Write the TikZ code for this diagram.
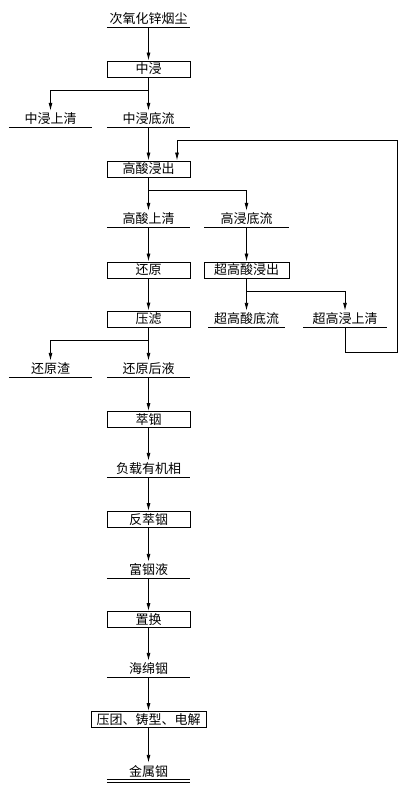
\documentclass[tikz,border=0pt]{standalone}
\usepackage{fontspec}
\setmainfont{Noto Sans CJK SC}
\usetikzlibrary{arrows.meta}
\begin{document}
\begin{tikzpicture}[x=1pt,y=-1pt,
  txt/.style={font=\fontsize{13}{14}\selectfont},
  proc/.style={txt, draw, line width=0.9pt, minimum width=83pt, minimum height=16pt, inner sep=0pt},
  prod/.style={txt, minimum width=83pt, minimum height=16pt, inner sep=0pt,
    append after command={(\tikzlastnode.south west) edge[line width=0.9pt] (\tikzlastnode.south east)}},
  ln/.style={line width=0.9pt},
  arr/.style={line width=0.9pt, -{Latex[length=8pt,width=4pt]}}]
\useasboundingbox (0,0) rectangle (406,791);
% nodes
\node[prod] (raw) at (148.5,19) {次氧化锌烟尘};
\node[proc] (zj) at (148.5,69) {中浸};
\node[prod] (zjsq) at (50.5,119) {中浸上清};
\node[prod] (zjdl) at (148.5,119) {中浸底流};
\node[proc] (gs) at (148.5,169) {高酸浸出};
\node[prod] (gssq) at (148.5,219) {高酸上清};
\node[prod, minimum width=84pt] (gjdl) at (246.5,219) {高浸底流};
\node[proc] (hy) at (148.5,270) {还原};
\node[proc, minimum width=85pt] (cg) at (246.5,270) {超高酸浸出};
\node[proc] (yl) at (148.5,319) {压滤};
\node[prod, minimum width=76pt] (cgdl) at (246.5,319) {超高酸底流};
\node[prod] (cgsq) at (345,319) {超高浸上清};
\node[prod] (hyz) at (50.5,369) {还原渣};
\node[prod] (hyhy) at (148.5,369) {还原后液};
\node[proc] (cy) at (148.5,419.5) {萃铟};
\node[prod] (fz) at (148.5,469) {负载有机相};
\node[proc] (fcy) at (148.5,519.5) {反萃铟};
\node[prod] (fyy) at (148.5,570) {富铟液};
\node[proc] (zh) at (148.5,619.5) {置换};
\node[prod] (hmy) at (148.5,669) {海绵铟};
\node[proc, minimum width=115pt] (yt) at (148.5,719.5) {压团、铸型、电解};
\node[prod] (jsy) at (148.5,771) {金属铟};
\draw[ln] ([yshift=-3pt]jsy.south west) -- ([yshift=-3pt]jsy.south east);
% branch coordinates
\coordinate (b1) at (148.5,90);
\coordinate (b2) at (148.5,190);
\coordinate (b3) at (246.5,291);
\coordinate (b4) at (148.5,340);
\coordinate (f1) at (345,352);
\coordinate (f2) at (397,352);
\coordinate (f3) at (397,140);
\coordinate (f4) at (177,140);
% connectors
\draw[arr] (raw.south) -- (zj.north);
\draw[arr] (zj.south) -- (zjdl.north);
\draw[arr] (b1) -| (zjsq.north);
\draw[arr] (zjdl.south) -- (gs.north);
\draw[arr] (gs.south) -- (gssq.north);
\draw[arr] (b2) -| (gjdl.north);
\draw[arr] (gssq.south) -- (hy.north);
\draw[arr] (gjdl.south) -- (cg.north);
\draw[arr] (hy.south) -- (yl.north);
\draw[arr] (cg.south) -- (cgdl.north);
\draw[arr] (b3) -| (cgsq.north);
\draw[arr] (yl.south) -- (hyhy.north);
\draw[arr] (b4) -| (hyz.north);
\draw[arr] (cgsq.south) -- (f1) -- (f2) -- (f3) -- (f4) -- (f4 |- gs.north);
\draw[arr] (hyhy.south) -- (cy.north);
\draw[arr] (cy.south) -- (fz.north);
\draw[arr] (fz.south) -- (fcy.north);
\draw[arr] (fcy.south) -- (fyy.north);
\draw[arr] (fyy.south) -- (zh.north);
\draw[arr] (zh.south) -- (hmy.north);
\draw[arr] (hmy.south) -- (yt.north);
\draw[arr] (yt.south) -- (jsy.north);
\end{tikzpicture}
\end{document}
